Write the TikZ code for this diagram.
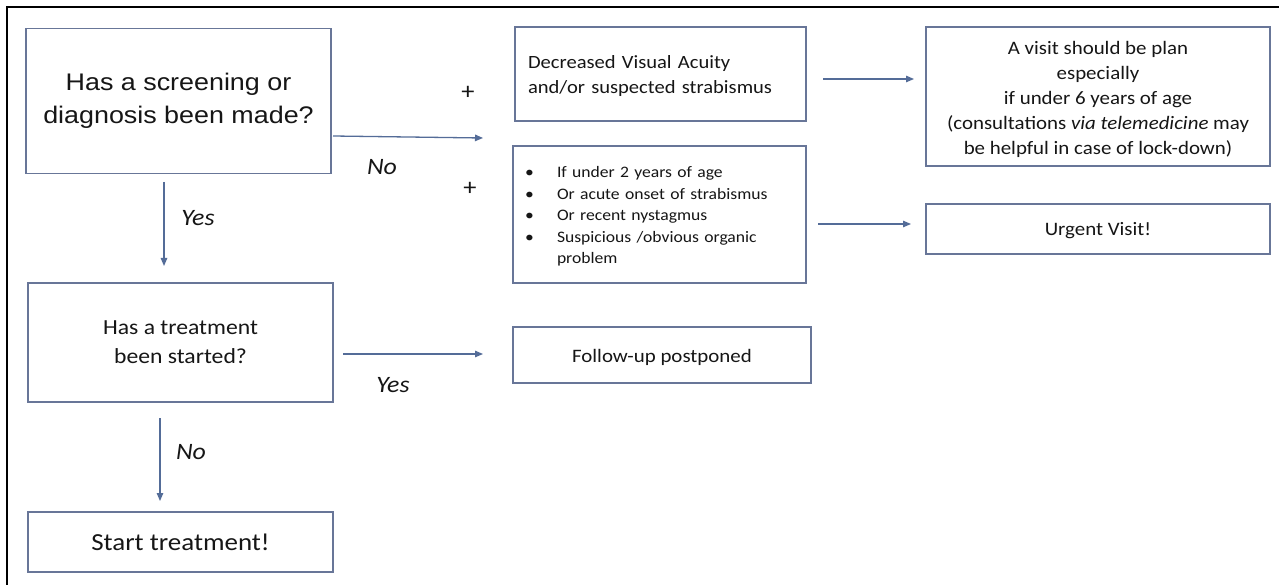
\documentclass[tikz,border=0pt]{standalone}
\usepackage{fontspec}
\setmainfont{Carlito}[FakeStretch=1.1]
\newfontfamily\arialfont{Liberation Sans}[FakeStretch=1.12]
\usetikzlibrary{arrows.meta}
\definecolor{boxc}{RGB}{104,118,152}
\definecolor{arrc}{RGB}{84,108,152}
\definecolor{txtc}{RGB}{22,22,22}
\tikzset{
  fbox/.style={draw=boxc, line width=1.4pt, inner sep=0pt, text=txtc, align=center},
  arr/.style={draw=arrc, line width=1.3pt, -{Triangle[length=8pt,width=6.5pt]}},
  lab/.style={text=txtc, font=\fontsize{23.5}{28}\selectfont\itshape},
  plus/.style={text=txtc, font=\fontsize{24}{28}\selectfont}
}
\begin{document}
\begin{tikzpicture}[x=1pt,y=-1pt]
\useasboundingbox (0,0) rectangle (1279,585);
\fill[white] (0,0) rectangle (1279,585);
\draw[line width=2.2pt, black] (7,585) -- (7,7) -- (1279,7);

% boxes
\node[fbox, minimum width=305pt, minimum height=145pt, font=\arialfont\fontsize{24}{33}\selectfont]
  (b1) at (178.5,101) {Has a screening or\\diagnosis been made?};
\node[fbox, minimum width=305pt, minimum height=119pt, font=\fontsize{21.5}{29}\selectfont]
  (b2) at (180.5,342.5) {Has a treatment\\been started?};
\node[fbox, minimum width=305pt, minimum height=60pt, font=\fontsize{24.5}{28}\selectfont]
  (b3) at (180.5,542) {Start treatment!};
\node[fbox, minimum width=291pt, minimum height=94pt, inner xsep=13pt, text width=265pt, align=left,
  font=\fontsize{18.7}{25}\selectfont]
  (dva) at (660.5,74) {\rule{0pt}{17pt}Decreased Visual Acuity\\and/or suspected strabismus};
\node[fbox, minimum width=293pt, minimum height=137pt, inner xsep=12pt, text width=269pt, align=left,
  font=\fontsize{16}{21.5}\selectfont]
  (bul) at (659.5,214.5) {%
  \rule{0pt}{15pt}\makebox[32pt][l]{\textbullet}If under 2 years of age\\
  \makebox[32pt][l]{\textbullet}Or acute onset of strabismus\\
  \makebox[32pt][l]{\textbullet}Or recent nystagmus\\
  \makebox[32pt][l]{\textbullet}Suspicious /obvious organic\\
  \makebox[32pt][l]{}problem};
\node[fbox, minimum width=344pt, minimum height=139pt, font=\fontsize{19}{25.2}\selectfont]
  (vis) at (1098,96.5) {\rule{0pt}{19pt}A visit should be plan\\especially\\if under 6 years of age\\(consultations \textit{via telemedicine} may\\be helpful in case of lock-down)};
\node[fbox, minimum width=344pt, minimum height=50pt, font=\fontsize{19}{22}\selectfont]
  (urg) at (1098,229) {\rule{0pt}{17pt}Urgent Visit!};
\node[fbox, minimum width=298pt, minimum height=56pt, font=\fontsize{19}{22}\selectfont]
  (fup) at (662,355) {\rule{0pt}{18pt}Follow-up postponed};

% connector end points
\coordinate (a1s) at (333,136);
\coordinate (a1e) at (483,138);
\coordinate (a2s) at (164,182);
\coordinate (a2e) at (164,266);
\coordinate (a3s) at (343,354);
\coordinate (a3e) at (483,354);
\coordinate (a4s) at (160,418);
\coordinate (a4e) at (160,501);
\coordinate (a5s) at (823,79);
\coordinate (a5e) at (914,79);
\coordinate (a6s) at (818,224);
\coordinate (a6e) at (911,224);

\draw[arr] (a1s) -- (a1e);
\draw[arr] (a2s) -- (a2e);
\draw[arr] (a3s) -- (a3e);
\draw[arr] (a4s) -- (a4e);
\draw[arr] (a5s) -- (a5e);
\draw[arr] (a6s) -- (a6e);

% labels
\node[lab] (lno1) at (382,167) {No};
\node[lab] (lyes1) at (198,218) {Yes};
\node[lab] (lyes2) at (393,385) {Yes};
\node[lab] (lno2) at (191,452) {No};
\node[plus] (p1) at (468,93) {+};
\node[plus] (p2) at (470,189) {+};
\end{tikzpicture}
\end{document}
